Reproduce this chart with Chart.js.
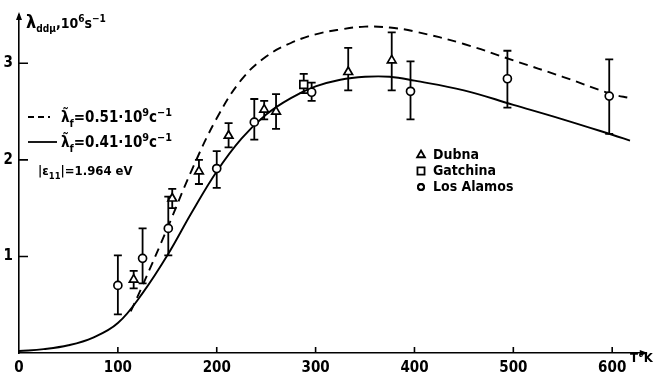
<!DOCTYPE html>
<html><head><meta charset="utf-8">
<script src="https://cdn.jsdelivr.net/npm/chart.js@4.4.0/dist/chart.umd.min.js"></script>
<style>html,body{margin:0;padding:0;background:#fff}canvas{display:block}</style>
</head><body>
<canvas id="grafico" width="654" height="378"></canvas>
<script>
const FONT = "'Liberation Sans Narrow','DejaVu Sans Condensed','Liberation Sans',sans-serif";

/* EIXOS */
const xTicks = [0,100,200,300,400,500,600];
const yTicks = [1,2,3];

/* CURVA CHEIA, lambda_f = 0.41 */
const cheiaT = [0,25,50,75,100,125,150,175,200,225,250,275,300,325,350,375,400,450,500,550,600,618];
const cheiaV = [0.02,0.04,0.08,0.16,0.31,0.62,1.01,1.46,1.88,2.22,2.47,2.64,2.76,2.83,2.86,2.86,2.82,2.72,2.57,2.42,2.26,2.20];

/* CURVA TRACEJADA, lambda_f = 0.51 */
const tracT = [113,125,150,175,200,225,250,275,300,325,350,375,400,450,500,550,600,618];
const tracV = [0.43,0.70,1.29,1.90,2.43,2.83,3.07,3.21,3.30,3.35,3.38,3.37,3.33,3.20,3.03,2.86,2.68,2.64];

/* DUBNA */
const dubnaT  = [116,155,182,212,248,260,333,377];
const dubnaV  = [0.76,1.60,1.88,2.25,2.52,2.50,2.91,3.03];
const dubnaLo = [0.67,1.50,1.75,2.13,2.42,2.32,2.72,2.72];
const dubnaHi = [0.85,1.70,2.00,2.38,2.61,2.68,3.16,3.32];

/* GATCHINA */
const gatT  = [288];
const gatV  = [2.78];
const gatLo = [2.69];
const gatHi = [2.89];

/* LOS ALAMOS */
const losT  = [100,125,151,200,238,296,396,494,597];
const losV  = [0.70,0.98,1.29,1.91,2.39,2.70,2.71,2.84,2.66];
const losLo = [0.40,0.72,1.01,1.71,2.21,2.61,2.42,2.54,2.27];
const losHi = [1.01,1.29,1.62,2.09,2.63,2.80,3.02,3.13,3.04];

const pts = (t,v)=>t.map((x,i)=>({x, y:v[i]}));

/* BARRAS DE ERRO */
const barrasErro = {
  id:'barrasErro',
  beforeDatasetsDraw(chart){
    const ctx = chart.ctx, xs = chart.scales.x, ys = chart.scales.y;
    ctx.save();
    ctx.strokeStyle = '#000'; ctx.lineWidth = 1.8;
    chart.data.datasets.forEach(ds=>{
      if(!ds.lo) return;
      ds.data.forEach((p,i)=>{
        const x = xs.getPixelForValue(p.x);
        const y1 = ys.getPixelForValue(ds.lo[i]), y2 = ys.getPixelForValue(ds.hi[i]);
        ctx.beginPath();
        ctx.moveTo(x,y1); ctx.lineTo(x,y2);
        ctx.moveTo(x-4,y1); ctx.lineTo(x+4,y1);
        ctx.moveTo(x-4,y2); ctx.lineTo(x+4,y2);
        ctx.stroke();
      });
    });
    ctx.restore();
  }
};

function texto(ctx, x, y, partes, tam){
  partes.forEach(([t, tipo, tm])=>{
    let s = tm || tam, dy = 0;
    if(tipo==='sub'){ s = tam*0.72; dy = tam*0.32; }
    if(tipo==='sup'){ s = tam*0.72; dy = -tam*0.42; }
    ctx.font = `bold ${s}px ${FONT}`;
    ctx.fillText(t, x, y+dy);
    x += ctx.measureText(t).width;
  });
}

/* ANOTAÇÕES, SETAS, MARCAS */
const anotacoes = {
  id:'anotacoes',
  afterDraw(chart){
    const ctx = chart.ctx, xs = chart.scales.x, ys = chart.scales.y;
    const a = chart.chartArea;
    ctx.save();
    ctx.strokeStyle = '#000'; ctx.fillStyle = '#000'; ctx.lineWidth = 1.6;

    // marcas internas
    ctx.beginPath();
    xTicks.forEach(v=>{ if(v===0) return; const x = xs.getPixelForValue(v); ctx.moveTo(x,a.bottom); ctx.lineTo(x,a.bottom-6); });
    yTicks.forEach(v=>{ const y = ys.getPixelForValue(v); ctx.moveTo(a.left,y); ctx.lineTo(a.left+9,y); });
    ctx.stroke();

    // setas
    ctx.beginPath();
    ctx.moveTo(a.right+1,a.bottom); ctx.lineTo(a.right-7,a.bottom-3); ctx.lineTo(a.right-7,a.bottom+3); ctx.closePath();
    ctx.moveTo(a.left,a.top-3); ctx.lineTo(a.left-3,a.top+5); ctx.lineTo(a.left+3,a.top+5); ctx.closePath();
    ctx.fill();

    ctx.textBaseline = 'alphabetic';
    // título do eixo y
    texto(ctx, 26, 28, [['λ','',18],['ddμ','sub'],[',10',''],['6','sup'],['s',''],['−1','sup']], 14);
    // T°K
    texto(ctx, 630, 362, [['T°K','']], 13);

    // legenda das curvas
    ctx.lineWidth = 1.8;
    ctx.setLineDash([6,4]);
    ctx.beginPath(); ctx.moveTo(28,117); ctx.lineTo(50,117); ctx.stroke();
    ctx.setLineDash([]);
    ctx.beginPath(); ctx.moveTo(28,142); ctx.lineTo(57,142); ctx.stroke();
    texto(ctx, 61, 122, [['λ̃',''],['f','sub'],['=0.51·10',''],['9','sup'],['c',''],['−1','sup']], 15);
    texto(ctx, 61, 147, [['λ̃',''],['f','sub'],['=0.41·10',''],['9','sup'],['c',''],['−1','sup']], 15);
    texto(ctx, 38, 175, [['|ε',''],['11','sub'],['|=1.964 eV','']], 13);

    // legenda dos pontos
    const estilo = {borderWidth:1.6};
    ctx.fillStyle = '#fff';
    Chart.helpers.drawPoint(ctx, {...estilo, pointStyle:'triangle', radius:4.5}, 421, 155);
    Chart.helpers.drawPoint(ctx, {...estilo, pointStyle:'rect', radius:5}, 421, 171);
    Chart.helpers.drawPoint(ctx, {...estilo, pointStyle:'circle', radius:3}, 421, 187);
    ctx.stroke();
    ctx.fillStyle = '#000';
    texto(ctx, 433, 159, [['Dubna','']], 14);
    texto(ctx, 433, 175, [['Gatchina','']], 14);
    texto(ctx, 433, 191, [['Los Alamos','']], 14);
    ctx.restore();
  }
};

const ponto = (estilo, r)=>({
  type:'scatter', pointStyle:estilo, pointRadius:r, pointBorderWidth:1.7,
  pointBackgroundColor:'#fff', pointBorderColor:'#000', showLine:false
});

new Chart(document.getElementById('grafico'), {
  type:'scatter',
  data:{ datasets:[
    {...ponto('triangle',5), data:pts(dubnaT,dubnaV), lo:dubnaLo, hi:dubnaHi},
    {...ponto('rect',5.5), data:pts(gatT,gatV), lo:gatLo, hi:gatHi},
    {...ponto('circle',4), data:pts(losT,losV), lo:losLo, hi:losHi},
    {type:'line', data:pts(cheiaT,cheiaV), borderColor:'#000', borderWidth:1.9, pointRadius:0, tension:0.4, fill:false},
    {type:'line', data:pts(tracT,tracV), borderColor:'#000', borderWidth:1.9, borderDash:[9,6], pointRadius:0, tension:0.4, fill:false}
  ]},
  options:{
    responsive:false, animation:false, devicePixelRatio:1,
    layout:{padding:{top:5,right:2,left:0,bottom:0}},
    plugins:{legend:{display:false}, tooltip:{enabled:false}},
    scales:{
      x:{type:'linear', min:0, max:635,
        afterFit(s){ s.height = 25; },
        afterBuildTicks(s){ s.ticks = xTicks.map(v=>({value:v})); },
        grid:{display:false, drawTicks:false},
        border:{display:true, color:'#000', width:1.6},
        ticks:{color:'#000', padding:6, maxRotation:0, autoSkip:false, font:{family:FONT, size:15, weight:'bold'}}
      },
      y:{type:'linear', min:0, max:3.5,
        afterFit(s){ s.width = 19; },
        afterBuildTicks(s){ s.ticks = yTicks.map(v=>({value:v})); },
        grid:{display:false, drawTicks:false},
        border:{display:true, color:'#000', width:1.6},
        ticks:{color:'#000', padding:6, font:{family:FONT, size:15, weight:'bold'}}
      }
    }
  },
  plugins:[barrasErro, anotacoes]
});
</script>
</body></html>
